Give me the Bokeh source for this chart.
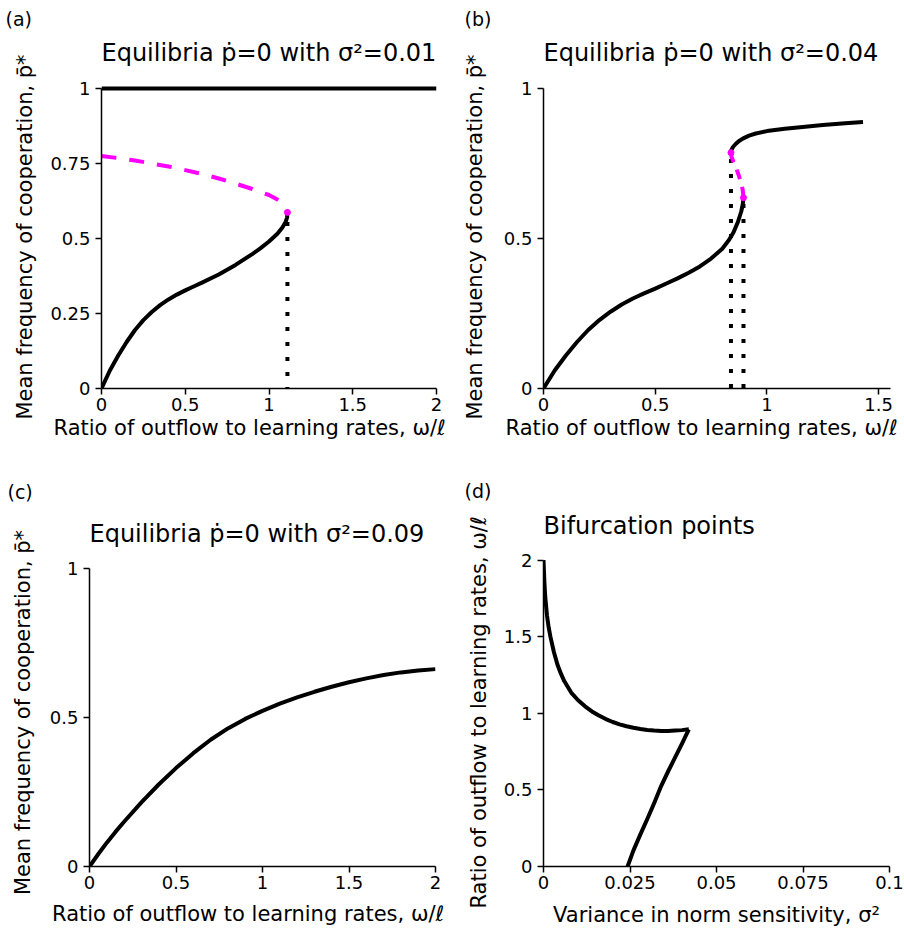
from bokeh.plotting import figure
from bokeh.layouts import column, row
from bokeh.models import FixedTicker, Title, Range1d
from bokeh.embed import file_html
from bokeh.resources import INLINE

FONT = "DejaVu Sans"
BLACK = "#000000"
MAGENTA = "#ff00ff"

# ---------------- data ----------------
# (a) sigma^2 = 0.01
a_top_x = [0, 2]
a_top_p = [1, 1]
a_low_x = [0, 0.05, 0.1, 0.15, 0.2, 0.25, 0.3, 0.35, 0.4, 0.45, 0.5, 0.55, 0.6, 0.7, 0.8,
           0.9, 0.95, 1.0, 1.05, 1.08, 1.1, 1.108, 1.11]
a_low_p = [0, 0.06, 0.11, 0.155, 0.195, 0.228, 0.255, 0.278, 0.297, 0.313, 0.327, 0.34, 0.353,
           0.38, 0.412, 0.448, 0.468, 0.49, 0.516, 0.537, 0.556, 0.57, 0.587]
a_uns_x = [0, 0.1, 0.2, 0.3, 0.4, 0.5, 0.6, 0.7, 0.8, 0.9, 1.0, 1.05, 1.08, 1.1, 1.11]
a_uns_p = [0.775, 0.768, 0.76, 0.75, 0.74, 0.728, 0.715, 0.70, 0.683, 0.665, 0.645, 0.63, 0.617, 0.603, 0.587]
a_fold_x = [1.11]
a_fold_p = [0.587]
a_drop_x = [1.11, 1.11]
a_drop_p = [0.555, 0]

# (b) sigma^2 = 0.04
b_low_x = [0, 0.05, 0.1, 0.15, 0.2, 0.25, 0.3, 0.35, 0.4, 0.45, 0.5, 0.55, 0.6, 0.65, 0.7,
           0.75, 0.8, 0.83, 0.85, 0.87, 0.885, 0.892, 0.895]
b_low_p = [0, 0.06, 0.11, 0.155, 0.195, 0.228, 0.256, 0.28, 0.30, 0.317, 0.333, 0.35, 0.367,
           0.386, 0.407, 0.433, 0.466, 0.495, 0.52, 0.555, 0.59, 0.615, 0.636]
b_high_x = [0.839, 0.841, 0.848, 0.86, 0.875, 0.892, 0.92, 0.95, 1.0, 1.08, 1.16, 1.25, 1.35, 1.43]
b_high_p = [0.786, 0.795, 0.805, 0.815, 0.825, 0.833, 0.843, 0.850, 0.858, 0.866, 0.872, 0.878, 0.884, 0.888]
b_uns_x = [0.839, 0.842, 0.85, 0.862, 0.874, 0.885, 0.892, 0.895]
b_uns_p = [0.786, 0.772, 0.755, 0.735, 0.71, 0.685, 0.66, 0.636]
b_fold_x = [0.839, 0.895]
b_fold_p = [0.786, 0.636]
b_drop1_x = [0.839, 0.839]
b_drop1_p = [0.765, 0]
b_drop2_x = [0.895, 0.895]
b_drop2_p = [0.615, 0]

# (c) sigma^2 = 0.09
c_x = [0, 0.05, 0.1, 0.15, 0.2, 0.3, 0.4, 0.5, 0.6, 0.7, 0.8, 0.9, 1.0, 1.1, 1.2, 1.3, 1.4,
       1.5, 1.6, 1.7, 1.8, 1.9, 2.0]
c_p = [0, 0.041, 0.08, 0.116, 0.15, 0.215, 0.275, 0.33, 0.38, 0.425, 0.463, 0.495, 0.522, 0.546,
       0.567, 0.586, 0.603, 0.618, 0.631, 0.642, 0.651, 0.657, 0.662]

# (d) bifurcation points
d_up_s = [0, 0.00025, 0.0005, 0.001, 0.0015, 0.002, 0.003, 0.004, 0.005, 0.006, 0.008, 0.01,
          0.012, 0.014, 0.016, 0.018, 0.02, 0.022, 0.024, 0.026, 0.028, 0.03, 0.032, 0.034,
          0.036, 0.038, 0.04, 0.042]
d_up_w = [2.0, 1.86, 1.76, 1.64, 1.56, 1.5, 1.4, 1.32, 1.26, 1.21, 1.135, 1.085, 1.045, 1.012,
          0.985, 0.962, 0.943, 0.928, 0.915, 0.905, 0.897, 0.891, 0.887, 0.885, 0.885, 0.887,
          0.89, 0.895]
d_lo_s = [0.042, 0.040, 0.038, 0.036, 0.034, 0.032, 0.030, 0.028, 0.026, 0.0243]
d_lo_w = [0.895, 0.80, 0.71, 0.62, 0.525, 0.415, 0.31, 0.21, 0.105, 0.0]

# ticks
ticks_x2 = [0, 0.5, 1, 1.5, 2]
labels_x2 = ["0", "0.5", "1", "1.5", "2"]
ticks_x15 = [0, 0.5, 1, 1.5]
labels_x15 = ["0", "0.5", "1", "1.5"]
ticks_y_quarter = [0, 0.25, 0.5, 0.75, 1]
labels_y_quarter = ["0", "0.25", "0.5", "0.75", "1"]
ticks_y_half = [0, 0.5, 1]
labels_y_half = ["0", "0.5", "1"]
ticks_sig = [0, 0.025, 0.05, 0.075, 0.1]
labels_sig = ["0", "0.025", "0.05", "0.075", "0.1"]
ticks_w = [0, 0.5, 1, 1.5, 2]
labels_w = ["0", "0.5", "1", "1.5", "2"]

P_LABEL = "Mean frequency of cooperation, p\u0304*"
W_LABEL = "Ratio of outflow to learning rates, \u03c9/\u2113"
S_LABEL = "Variance in norm sensitivity, \u03c3\u00b2"

LW = 4


def make_fig(width, height, xr, yr, xb, yb, borders, xt, xl, yt, yl,
             title, spacer, letter, letter_offset, letter_standoff, ylabel, ylabel_standoff):
    l, r, t, b = borders
    p = figure(width=width, height=height,
               x_range=Range1d(*xr), y_range=Range1d(*yr),
               output_backend="svg", toolbar_location=None,
               min_border_left=l, min_border_right=r,
               min_border_top=t, min_border_bottom=b,
               background_fill_color="white", border_fill_color="white")
    p.outline_line_color = None
    p.xgrid.visible = False
    p.ygrid.visible = False
    for ax, ticks, labels, bounds in ((p.xaxis[0], xt, xl, xb), (p.yaxis[0], yt, yl, yb)):
        ax.ticker = FixedTicker(ticks=ticks, minor_ticks=[])
        ax.major_label_overrides = {tk: s for tk, s in zip(ticks, labels)}
        ax.bounds = bounds
        ax.axis_line_color = BLACK
        ax.axis_line_width = 1.5
        ax.major_tick_line_color = BLACK
        ax.major_tick_line_width = 1.5
        ax.major_tick_out = 6
        ax.major_tick_in = 0
        ax.minor_tick_line_color = None
        ax.major_label_text_font = FONT
        ax.major_label_text_font_size = "18px"
        ax.major_label_text_color = BLACK
        ax.axis_label_text_font = FONT
        ax.axis_label_text_font_size = "21px"
        ax.axis_label_text_font_style = "normal"
        ax.axis_label_text_color = BLACK
    p.xaxis[0].major_label_standoff = 3
    p.yaxis[0].major_label_standoff = 5
    p.yaxis[0].axis_label = ylabel
    p.yaxis[0].axis_label_standoff = ylabel_standoff

    # spacer between frame and title
    p.add_layout(Title(text=" ", text_font_size="1px", standoff=spacer), "above")
    # main title, text at the top of its panel
    p.add_layout(Title(text=title, align="left", vertical_align="top", text_font=FONT,
                       text_font_size="24px", text_font_style="normal", text_color=BLACK,
                       standoff=0), "above")
    # panel letter
    p.add_layout(Title(text=letter, align="left", vertical_align="top", offset=letter_offset,
                       text_font=FONT, text_font_size="19px", text_font_style="normal",
                       text_color=BLACK, standoff=letter_standoff), "above")
    return p


def add_xtitle(p, text, offset, standoff):
    p.add_layout(Title(text=text, align="left", offset=offset, text_font=FONT,
                       text_font_size="21px", text_font_style="normal",
                       text_color=BLACK, standoff=standoff), "below")


# ---------------- (a) ----------------
pa = make_fig(452, 466, (0, 2), (0, 1.01), (0, 2), (0, 1), (101, 16, 85, 78),
              ticks_x2, labels_x2, ticks_y_quarter, labels_y_quarter,
              "Equilibria \u1e57=0 with \u03c3\u00b2=0.01", 14.2, "(a)", -96, 13.0,
              P_LABEL, 10)
add_xtitle(pa, W_LABEL, -48, 0)
pa.line(a_drop_x, a_drop_p, line_color=BLACK, line_width=4, line_dash="4 11")
pa.line(a_top_x, a_top_p, line_color=BLACK, line_width=LW)
pa.line(a_low_x, a_low_p, line_color=BLACK, line_width=LW, line_join="round")
pa.line(a_uns_x, a_uns_p, line_color=MAGENTA, line_width=LW, line_dash="15 13")
pa.scatter(a_fold_x, a_fold_p, size=6, fill_color=MAGENTA, line_color=MAGENTA)

# ---------------- (b) ----------------
pb = make_fig(452, 466, (0, 1.553), (0, 1.01), (0, 1.553), (0, 1), (91, 14, 85, 78),
              ticks_x15, labels_x15, ticks_y_half, labels_y_half,
              "Equilibria \u1e57=0 with \u03c3\u00b2=0.04", 14.2, "(b)", -79, 13.0,
              P_LABEL, 14)
add_xtitle(pb, W_LABEL, -38, 0)
pb.line(b_drop1_x, b_drop1_p, line_color=BLACK, line_width=4, line_dash="4 11")
pb.line(b_drop2_x, b_drop2_p, line_color=BLACK, line_width=4, line_dash="4 11")
pb.line(b_low_x, b_low_p, line_color=BLACK, line_width=LW, line_join="round")
pb.line(b_high_x, b_high_p, line_color=BLACK, line_width=LW, line_join="round")
pb.line(b_uns_x, b_uns_p, line_color=MAGENTA, line_width=LW, line_dash="10 8")
pb.scatter(b_fold_x, b_fold_p, size=6, fill_color=MAGENTA, line_color=MAGENTA)

# ---------------- (c) ----------------
pc = make_fig(452, 467, (0, 2), (0, 1.033), (0, 2), (0, 1), (89, 17, 92, 64),
              ticks_x2, labels_x2, ticks_y_half, labels_y_half,
              "Equilibria \u1e57=0 with \u03c3\u00b2=0.09", 5.5, "(c)", -82, 29,
              P_LABEL, 12)
add_xtitle(pc, W_LABEL, -37.5, 16)
pc.line(c_x, c_p, line_color=BLACK, line_width=LW, line_join="round")

# ---------------- (d) ----------------
pd_ = make_fig(452, 467, (0, 0.1), (0, 2.01), (0, 0.1), (0, 2), (91, 15, 92, 64),
               ticks_sig, labels_sig, ticks_w, labels_w,
               "Bifurcation points", 14.2, "(d)", -79, 16,
               W_LABEL, 10)
pd_.xaxis[0].axis_label = S_LABEL
pd_.xaxis[0].axis_label_standoff = 11
pd_.line(d_up_s, d_up_w, line_color=BLACK, line_width=LW, line_join="round")
pd_.line(d_lo_s, d_lo_w, line_color=BLACK, line_width=LW, line_join="round")

layout = column(row(pa, pb), row(pc, pd_))

open("out.html", "w").write(file_html(layout, INLINE))
